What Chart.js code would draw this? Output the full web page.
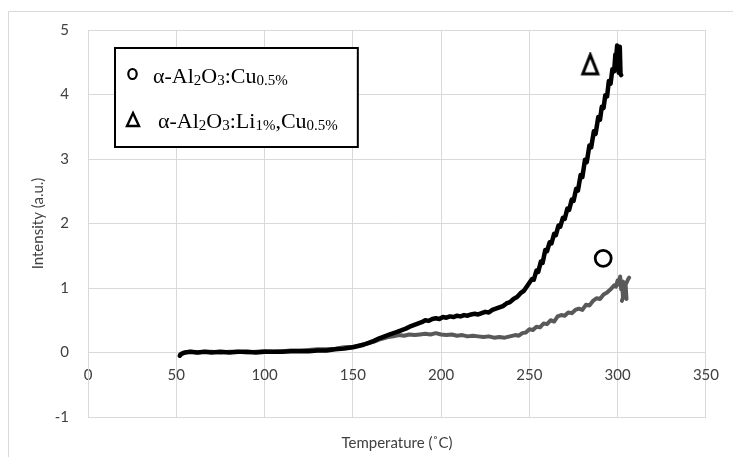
<!DOCTYPE html>
<html>
<head>
<meta charset="utf-8">
<script src="https://cdn.jsdelivr.net/npm/chart.js@4.4.0/dist/chart.umd.min.js"></script>
<style>
  html, body { margin: 0; padding: 0; background: #fff; }
  #wrap { width: 733px; height: 457px; }
</style>
</head>
<body>
<div id="wrap"><canvas id="tlChart"></canvas></div>
<script>
// Cu doped sample (grey curve)
const tempCu = [52, 54, 58, 62, 66, 70, 75, 80, 85, 90, 95, 100, 105, 110, 115, 120, 125, 130, 135, 140,
    145, 150, 154, 158, 162, 166, 170, 173, 176, 179, 182, 185, 188, 191, 194, 197, 200, 203, 206, 209,
    212, 215, 218, 221, 224, 227, 230, 233, 236, 239, 242, 244, 246, 248, 250, 252, 254, 256, 258, 260,
    262, 264, 266, 268, 270, 272, 274, 276, 278, 280, 282, 284, 286, 288, 290, 292, 294, 296, 298, 299,
    300, 300.8, 301.4, 302, 302.5, 303, 302.4, 304, 305, 304.5, 306, 306.5];
const intCu = [-0.03, 0.00, 0.01, 0.00, 0.01, 0.01, 0.00, 0.01, 0.01, 0.00, 0.01, 0.02, 0.01, 0.02, 0.03, 0.03, 0.04, 0.05, 0.05, 0.06,
    0.08, 0.09, 0.11, 0.14, 0.17, 0.21, 0.24, 0.25, 0.27, 0.26, 0.28, 0.27, 0.28, 0.29, 0.28, 0.30, 0.28, 0.27, 0.28, 0.26,
    0.27, 0.25, 0.26, 0.25, 0.24, 0.25, 0.23, 0.24, 0.23, 0.25, 0.27, 0.26, 0.30, 0.31, 0.36, 0.35, 0.40, 0.39, 0.45, 0.44,
    0.50, 0.48, 0.56, 0.58, 0.57, 0.62, 0.61, 0.66, 0.68, 0.66, 0.74, 0.73, 0.80, 0.84, 0.83, 0.90, 0.93, 0.98, 1.04, 1.02,
    1.12, 1.05, 1.18, 0.98, 1.10, 0.85, 0.80, 0.92, 0.83, 1.05, 1.14, 1.16];

// Li + Cu co-doped sample (black curve)
const tempLiCu = [52, 53, 55, 58, 62, 66, 70, 75, 80, 85, 90, 95, 100, 105, 110, 115, 120, 125, 130, 135,
    140, 145, 150, 153, 156, 159, 162, 165, 168, 171, 174, 177, 180, 183, 186, 189, 191, 193, 195, 197,
    199, 201, 203, 205, 207, 209, 211, 213, 215, 217, 219, 221, 223, 225, 227, 229, 231, 233, 235, 237,
    239, 241, 243, 245, 247, 250, 251.5, 252.5, 254, 255, 256.5, 257.5, 259, 260, 261.5, 262.5, 264, 265,
    266.5, 267.5, 269, 270, 271.5, 272.5, 274, 275, 276.5, 277.5, 279, 280, 281.5, 282.5, 284, 285, 286.5,
    287.5, 289, 290, 291, 292, 293, 294, 295, 296, 297, 298, 298.7, 299.2, 299.7, 300.2, 300.6, 301.2,
    301.6, 302];
const intLiCu = [-0.05, -0.02, 0.00, 0.01, 0.00, 0.01, 0.00, 0.01, 0.00, 0.01, 0.01, 0.00, 0.01, 0.01, 0.01, 0.02, 0.02, 0.02, 0.03, 0.03,
    0.05, 0.06, 0.08, 0.10, 0.12, 0.15, 0.18, 0.22, 0.25, 0.28, 0.31, 0.34, 0.37, 0.41, 0.44, 0.47, 0.50, 0.49, 0.52, 0.53,
    0.52, 0.55, 0.54, 0.56, 0.55, 0.57, 0.56, 0.58, 0.57, 0.59, 0.60, 0.59, 0.61, 0.63, 0.62, 0.66, 0.68, 0.70, 0.72, 0.76,
    0.78, 0.83, 0.86, 0.92, 0.96, 1.08, 1.14, 1.13, 1.27, 1.25, 1.41, 1.39, 1.59, 1.57, 1.71, 1.69, 1.84, 1.82,
    1.97, 1.95, 2.09, 2.07, 2.23, 2.21, 2.37, 2.35, 2.54, 2.51, 2.75, 2.72, 2.99, 2.95, 3.21, 3.18, 3.43,
    3.39, 3.65, 3.61, 3.81, 3.79, 3.99, 3.97, 4.21, 4.17, 4.39, 4.36, 4.62, 4.58, 4.76, 4.72, 4.34, 4.74,
    4.32, 4.30];

// symbols placed next to the curves
const circleMark = [{ x: 291.8, y: 1.46 }];
const triangleMark = [{ x: 284.5, y: 4.46 }];

const xTicks = [0, 50, 100, 150, 200, 250, 300, 350];
const yTicks = [-1, 0, 1, 2, 3, 4, 5];

// legend rows: [text, isSubscript]
const legendCu = [['α-Al', 0], ['2', 1], ['O', 0], ['3', 1], [':Cu', 0], ['0.5%', 1]];
const legendLiCu = [['α-Al', 0], ['2', 1], ['O', 0], ['3', 1], [':Li', 0], ['1%', 1], [',Cu', 0], ['0.5%', 1]];

function toPoints(xs, ys) {
    return xs.map((x, i) => ({ x: x, y: ys[i] }));
}

const gridColor = '#d9d9d9';
const tickColor = '#404040';
const tickFont = { family: 'Lato', size: 15 };

// tall outlined triangle used as point style (like the Δ glyph)
const triIcon = document.createElement('canvas');
triIcon.width = 22;
triIcon.height = 26;
(function () {
    const c = triIcon.getContext('2d');
    c.strokeStyle = '#000';
    c.lineWidth = 3;
    c.lineJoin = 'miter';
    c.beginPath();
    c.moveTo(11, 3);
    c.lineTo(18.5, 22);
    c.lineTo(3.5, 22);
    c.closePath();
    c.stroke();
})();

// outer frame + text box legend
const framePlugin = {
    id: 'frame',
    beforeDraw(chart) {
        const ctx = chart.ctx;
        ctx.save();
        ctx.strokeStyle = gridColor;
        ctx.lineWidth = 1;
        ctx.beginPath();
        ctx.moveTo(8.5, chart.height);
        ctx.lineTo(8.5, 11.5);
        ctx.lineTo(chart.width, 11.5);
        ctx.stroke();
        ctx.restore();
    },
    afterDraw(chart) {
        const ctx = chart.ctx;
        const mainFont = '22px "Liberation Serif"';
        const subFont = '15px "Liberation Serif"';
        const drawRow = (parts, x, y) => {
            parts.forEach(p => {
                ctx.font = p[1] ? subFont : mainFont;
                ctx.fillText(p[0], x, y + (p[1] ? 2 : 0));
                x += ctx.measureText(p[0]).width;
            });
            return x;
        };
        const measureRow = parts => parts.reduce((w, p) => {
            ctx.font = p[1] ? subFont : mainFont;
            return w + ctx.measureText(p[0]).width;
        }, 0);

        const left = 115, top = 48, height = 99;
        const end = Math.max(153 + measureRow(legendCu), 158 + measureRow(legendLiCu));
        ctx.save();
        ctx.fillStyle = '#fff';
        ctx.fillRect(left, top, end + 20 - left, height);
        ctx.strokeStyle = '#000';
        ctx.lineWidth = 2;
        ctx.strokeRect(left, top, end + 20 - left, height);

        ctx.fillStyle = '#000';
        ctx.textBaseline = 'alphabetic';
        ctx.textAlign = 'left';
        drawRow(legendCu, 153, 83);
        drawRow(legendLiCu, 158, 128);

        // legend symbols
        ctx.lineWidth = 2.2;
        ctx.beginPath();
        ctx.ellipse(132.5, 74, 4.2, 5, 0, 0, Math.PI * 2);
        ctx.stroke();
        ctx.lineWidth = 2.4;
        ctx.beginPath();
        ctx.moveTo(133, 113);
        ctx.lineTo(139, 126);
        ctx.lineTo(127, 126);
        ctx.closePath();
        ctx.stroke();
        ctx.restore();
    }
};

new Chart(document.getElementById('tlChart').getContext('2d'), {
    type: 'line',
    data: {
        datasets: [{
            label: 'α-Al2O3:Li1%,Cu0.5%',
            data: toPoints(tempLiCu, intLiCu),
            borderColor: '#000',
            borderWidth: 4.5,
            borderJoinStyle: 'round',
            borderCapStyle: 'round',
            pointRadius: 0,
            tension: 0,
            order: 1
        }, {
            label: 'α-Al2O3:Cu0.5%',
            data: toPoints(tempCu, intCu),
            borderColor: '#595959',
            borderWidth: 4,
            borderJoinStyle: 'round',
            borderCapStyle: 'round',
            pointRadius: 0,
            tension: 0,
            order: 2
        }, {
            label: 'circle',
            data: circleMark,
            showLine: false,
            pointStyle: 'circle',
            pointRadius: 8,
            borderWidth: 2.8,
            borderColor: '#000',
            backgroundColor: 'rgba(255,255,255,0)',
            order: 0
        }, {
            label: 'triangle',
            data: triangleMark,
            showLine: false,
            pointStyle: triIcon,
            pointRadius: 10,
            order: 0
        }]
    },
    options: {
        responsive: true,
        maintainAspectRatio: false,
        animation: false,
        layout: { padding: { top: 30, right: 25, left: 0, bottom: 0 } },
        plugins: {
            legend: { display: false },
            tooltip: { enabled: false }
        },
        scales: {
            x: {
                type: 'linear',
                position: { y: 0 },
                min: 0,
                max: 350,
                afterBuildTicks: scale => { scale.ticks = xTicks.map(v => ({ value: v })); },
                grid: { color: gridColor, drawTicks: false },
                border: { color: gridColor },
                ticks: { color: tickColor, font: tickFont, padding: 14, maxRotation: 0 }
            },
            x2: {
                type: 'linear',
                position: 'bottom',
                min: 0,
                max: 350,
                grid: { display: false },
                border: { display: false },
                ticks: { display: false },
                title: { display: true, text: 'Temperature (˚C)', color: tickColor, font: tickFont, padding: { top: 0, bottom: 5 } },
                afterFit: scale => { scale.height = 40; }
            },
            y: {
                min: -1,
                max: 5,
                afterBuildTicks: scale => { scale.ticks = yTicks.map(v => ({ value: v })); },
                grid: { color: gridColor, drawTicks: false },
                border: { color: gridColor },
                ticks: { color: tickColor, font: tickFont, padding: 19 },
                title: { display: true, text: 'Intensity (a.u.)', color: tickColor, font: tickFont, padding: { top: 29, bottom: 0 } },
                afterFit: scale => { scale.width = 88; }
            }
        }
    },
    plugins: [framePlugin]
});
</script>
</body>
</html>
